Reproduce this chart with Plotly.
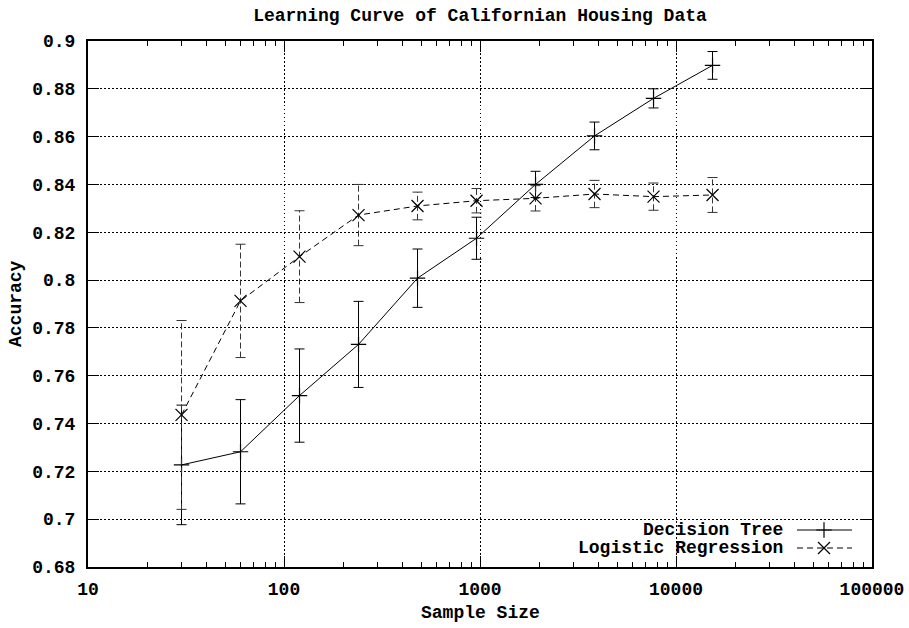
import plotly.graph_objects as go

# ---------------- data ----------------
sample_sizes = [30, 60, 120, 240, 480, 960, 1920, 3840, 7680, 15360]

dt_acc = [0.7227, 0.7282, 0.7517, 0.7731, 0.8008, 0.8175, 0.8400, 0.8603, 0.8760, 0.8898]
dt_err = [0.0250, 0.0218, 0.0195, 0.0180, 0.0122, 0.0088, 0.0055, 0.0058, 0.0040, 0.0058]

lr_acc = [0.7436, 0.7913, 0.8098, 0.8272, 0.8310, 0.8332, 0.8342, 0.8360, 0.8349, 0.8356]
lr_err = [0.0395, 0.0237, 0.0192, 0.0128, 0.0058, 0.0051, 0.0053, 0.0057, 0.0057, 0.0073]

x_tickvals = [10, 100, 1000, 10000, 100000]
x_ticktext = ["10", "100", "1000", "10000", "100000"]
y_tickvals = [0.68, 0.70, 0.72, 0.74, 0.76, 0.78, 0.80, 0.82, 0.84, 0.86, 0.88, 0.90]
y_ticktext = ["0.68", "0.7", "0.72", "0.74", "0.76", "0.78", "0.8", "0.82", "0.84", "0.86", "0.88", "0.9"]

title_text = "Learning Curve of Californian Housing Data"
x_title = "Sample Size"
y_title = "Accuracy"
series_names = ["Decision Tree", "Logistic Regression"]

# ---------------- layout constants ----------------
W, H = 909, 628
PL, PR, PT, PB = 88, 872, 41, 567          # plot box in page pixels
L, T = PL, PT
R, B = W - PR, H - PB
PW, PH = PR - PL, PB - PT
FONT = dict(family="Liberation Mono, Courier New, monospace", size=18, color="black", weight="bold")
CAP_DEC = 5.0 / (PW / 4.0)  # cap half width, in decades

fig = go.Figure()

# Decision tree: solid line, error bars with caps
fig.add_trace(go.Scatter(
    x=sample_sizes, y=dt_acc, mode="lines+markers", name=series_names[0],
    line=dict(color="black", width=1),
    marker=dict(symbol="cross-thin", size=11, line=dict(color="black", width=1.2), color="black"),
    error_y=dict(type="data", array=dt_err, visible=True, color="black", thickness=1, width=5),
    showlegend=False,
))

# Logistic regression: dashed error bars built from data
ex, ey, cx, cy = [], [], [], []
f = 10 ** CAP_DEC
for x, y, e in zip(sample_sizes, lr_acc, lr_err):
    ex += [x, x, None]
    ey += [y - e, y + e, None]
    for yy in (y - e, y + e):
        cx += [x / f, x * f, None]
        cy += [yy, yy, None]
fig.add_trace(go.Scatter(x=ex, y=ey, mode="lines", line=dict(color="#333", width=1, dash="6px,3px"),
                         showlegend=False, hoverinfo="skip"))
fig.add_trace(go.Scatter(x=cx, y=cy, mode="lines", line=dict(color="#333", width=1),
                         showlegend=False, hoverinfo="skip"))
fig.add_trace(go.Scatter(
    x=sample_sizes, y=lr_acc, mode="lines+markers", name=series_names[1],
    line=dict(color="black", width=1, dash="6px,4px"),
    marker=dict(symbol="x-thin", size=12, line=dict(color="black", width=1.2), color="black"),
    showlegend=False,
))

# legend samples on a hidden overlay axis (0..1 across the plot box)
def px_x(p):
    return (p - PL) / PW

def px_y(p):
    return (PB - p) / PH

leg_rows = [530, 548]
fig.add_trace(go.Scatter(x=[px_x(797), px_x(852)], y=[px_y(leg_rows[0])] * 2, mode="lines",
                         line=dict(color="black", width=1), xaxis="x2", yaxis="y2", showlegend=False))
fig.add_trace(go.Scatter(x=[px_x(824)], y=[px_y(leg_rows[0])], mode="markers",
                         marker=dict(symbol="cross-thin", size=11, line=dict(color="black", width=1.2)),
                         xaxis="x2", yaxis="y2", showlegend=False))
fig.add_trace(go.Scatter(x=[px_x(797), px_x(852)], y=[px_y(leg_rows[1])] * 2, mode="lines",
                         line=dict(color="black", width=1, dash="6px,4px"), xaxis="x2", yaxis="y2", showlegend=False))
fig.add_trace(go.Scatter(x=[px_x(824)], y=[px_y(leg_rows[1])], mode="markers",
                         marker=dict(symbol="x-thin", size=12, line=dict(color="black", width=1.2)),
                         xaxis="x2", yaxis="y2", showlegend=False))

annotations = []
for name, row in zip(series_names, leg_rows):
    annotations.append(dict(x=px_x(785), y=px_y(row), xref="x2", yref="y2", text=name,
                            showarrow=False, xanchor="right", yanchor="middle", font=FONT))
annotations.append(dict(x=0.5, y=0, xref="paper", yref="paper", text=x_title,
                        showarrow=False, xanchor="center", yanchor="middle", font=FONT,
                        yshift=-(613 - PB)))
annotations.append(dict(x=0, y=0.5, xref="paper", yref="paper", text=y_title, textangle=-90,
                        showarrow=False, xanchor="center", yanchor="middle", font=FONT,
                        xshift=-(PL - 16)))

grid_dash = "1.5px,2.5px"
fig.update_layout(
    width=W, height=H,
    margin=dict(l=L, r=R, t=T, b=B, autoexpand=False),
    plot_bgcolor="white", paper_bgcolor="white",
    font=FONT,
    title=dict(text=title_text, x=0.5, xref="paper", xanchor="center",
               y=1 - 15 / H, yanchor="middle", font=FONT),
    xaxis=dict(type="log", range=[1, 5], tickmode="array", tickvals=x_tickvals, ticktext=x_ticktext,
               ticks="inside", ticklen=11, tickwidth=1, tickcolor="black",
               showline=True, linecolor="black", linewidth=2, mirror="allticks",
               showgrid=True, gridcolor="black", gridwidth=1, griddash=grid_dash,
               zeroline=False, ticklabelstandoff=4, tickfont=FONT,
               minor=dict(ticks="inside", ticklen=5, tickwidth=1, tickcolor="black",
                          dtick="D1", showgrid=False)),
    yaxis=dict(range=[0.68, 0.90], tickmode="array", tickvals=y_tickvals, ticktext=y_ticktext,
               ticks="inside", ticklen=11, tickwidth=1, tickcolor="black",
               showline=True, linecolor="black", linewidth=2, mirror="allticks",
               showgrid=True, gridcolor="black", gridwidth=1, griddash=grid_dash,
               zeroline=False, ticklabelstandoff=7, tickfont=FONT),
    xaxis2=dict(overlaying="x", range=[0, 1], visible=False, fixedrange=True),
    yaxis2=dict(overlaying="y", range=[0, 1], visible=False, fixedrange=True),
    annotations=annotations,
    showlegend=False,
)

# remove the browser's default 8px body margin so the figure sits at the page origin
fig.write_html("out.html", config={"displayModeBar": False, "staticPlot": True},
               post_script="document.body.style.margin='0px';")
